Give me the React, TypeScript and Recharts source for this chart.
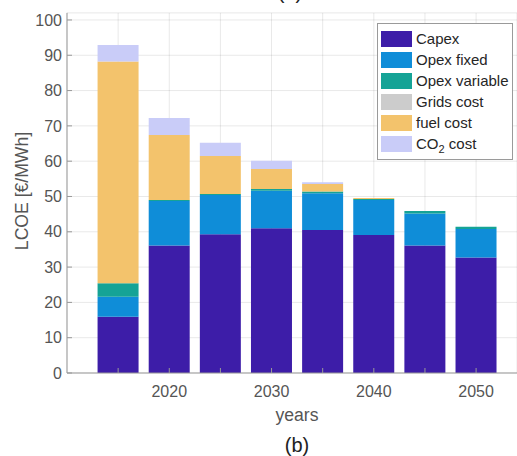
import { Bar, BarChart, CartesianGrid, Legend, XAxis, YAxis } from 'recharts';

// levelised cost of electricity per component, €/MWh
const years = [2015, 2020, 2025, 2030, 2035, 2040, 2045, 2050];
const capex = [15.9, 36.1, 39.3, 41.0, 40.5, 39.1, 36.1, 32.7];
const opexFixed = [5.7, 12.6, 11.1, 10.6, 10.4, 9.9, 9.1, 8.1];
const opexVariable = [3.8, 0.3, 0.3, 0.5, 0.5, 0.3, 0.7, 0.6];
const gridsCost = [0, 0, 0, 0, 0, 0, 0, 0];
const fuelCost = [62.8, 18.4, 10.8, 5.7, 2.1, 0.3, 0, 0];
const co2Cost = [4.7, 4.8, 3.7, 2.3, 0.5, 0, 0, 0];

const yTicks = [0, 10, 20, 30, 40, 50, 60, 70, 80, 90, 100];
const xTicks = [2015, 2020, 2025, 2030, 2035, 2040, 2045, 2050];

const SERIES = [
  { key: 'capex', name: 'Capex', color: '#3D1DA8', values: capex },
  { key: 'opexFixed', name: 'Opex fixed', color: '#0F8DD8', values: opexFixed },
  { key: 'opexVariable', name: 'Opex variable', color: '#15A396', values: opexVariable },
  { key: 'grids', name: 'Grids cost', color: '#CCCCCC', values: gridsCost },
  { key: 'fuel', name: 'fuel cost', color: '#F3C36C', values: fuelCost },
  { key: 'co2', name: 'CO2 cost', color: '#C9CCF8', values: co2Cost },
];

const data = years.map((year, i) => {
  const row: Record<string, number> = { year };
  SERIES.forEach((s) => {
    row[s.key] = s.values[i];
  });
  return row;
});

const FONT = '"Liberation Sans", Arial, Helvetica, sans-serif';
const AXIS = '#999999';

// "CO2" gets a subscript 2
const itemLabel = (name: string) =>
  name.startsWith('CO2') ? (
    <>
      CO<sub style={{ fontSize: 11, verticalAlign: -4, lineHeight: 0 }}>2</sub>
      {name.slice(3)}
    </>
  ) : (
    name
  );

const LegendBox = ({ payload }: any) => {
  const order = SERIES.map((s) => s.name);
  const items = [...(payload ?? [])].sort(
    (a: any, b: any) => order.indexOf(a.value) - order.indexOf(b.value),
  );
  return (
    <div
      style={{
        boxSizing: 'border-box',
        width: 136,
        border: '1px solid #9a9a9a',
        background: '#fff',
        padding: '4px 0 5px 3px',
        fontSize: 15,
        color: '#262626',
        fontFamily: FONT,
      }}
    >
      {items.map((p: any) => (
        <div key={p.value} style={{ display: 'flex', alignItems: 'center', height: 21 }}>
          <span
            style={{ display: 'inline-block', width: 31, height: 16, background: p.color, marginRight: 4 }}
          />
          <span style={{ whiteSpace: 'nowrap' }}>{itemLabel(p.value)}</span>
        </div>
      ))}
    </div>
  );
};

export default function App() {
  return (
    <div
      style={{
        position: 'absolute',
        left: 0,
        top: 0,
        width: 517,
        height: 456,
        overflow: 'hidden',
        background: '#fff',
        fontFamily: FONT,
      }}
    >
      <div
        style={{
          position: 'absolute',
          left: 290,
          top: -18,
          transform: 'translateX(-50%)',
          fontSize: 20,
          lineHeight: '20px',
          color: '#222',
        }}
      >
        (a)
      </div>

      <BarChart
        width={517}
        height={456}
        data={data}
        margin={{ top: 12.9, right: 0, bottom: 53, left: 0 }}
      >
        <XAxis
          dataKey="year"
          type="number"
          domain={[2010, 2054]}
          ticks={xTicks}
          allowDataOverflow
          height={30}
          tickFormatter={(v: number) => (v % 10 === 0 ? String(v) : '')}
          tick={{ fill: '#555', fontSize: 16 }}
          tickSize={-5}
          tickMargin={18}
          axisLine={{ stroke: AXIS }}
          tickLine={{ stroke: AXIS }}
        />
        <XAxis
          xAxisId="top"
          orientation="top"
          dataKey="year"
          type="number"
          domain={[2010, 2054]}
          ticks={xTicks}
          allowDataOverflow
          height={0}
          tick={false}
          tickSize={-5}
          axisLine={{ stroke: AXIS }}
          tickLine={{ stroke: AXIS }}
        />
        <YAxis
          type="number"
          domain={[0, 102]}
          ticks={yTicks}
          allowDataOverflow
          width={67}
          tick={{ fill: '#555', fontSize: 16 }}
          tickSize={-5}
          tickMargin={10}
          axisLine={{ stroke: AXIS }}
          tickLine={{ stroke: AXIS }}
        />
        {SERIES.map((s) => (
          <Bar
            key={s.key}
            dataKey={s.key}
            name={s.name}
            stackId="lcoe"
            fill={s.color}
            barSize={41}
            isAnimationActive={false}
          />
        ))}
        <CartesianGrid stroke="#000" strokeOpacity={0.09} />
        <Legend
          layout="vertical"
          align="center"
          verticalAlign="middle"
          content={<LegendBox />}
          wrapperStyle={{ top: 23, left: 377, width: 'auto', height: 'auto' }}
        />
      </BarChart>

      <div
        style={{
          position: 'absolute',
          left: 22,
          top: 191,
          transform: 'translate(-50%, -50%) rotate(-90deg)',
          fontSize: 17.6,
          color: '#555',
          whiteSpace: 'nowrap',
        }}
      >
        LCOE [€/MWh]
      </div>
      <div
        style={{
          position: 'absolute',
          left: 297,
          top: 415,
          transform: 'translate(-50%, -50%)',
          fontSize: 17.6,
          color: '#555',
        }}
      >
        years
      </div>
      <div
        style={{
          position: 'absolute',
          left: 297,
          top: 445,
          transform: 'translate(-50%, -50%)',
          fontSize: 20,
          color: '#222',
        }}
      >
        (b)
      </div>
    </div>
  );
}
